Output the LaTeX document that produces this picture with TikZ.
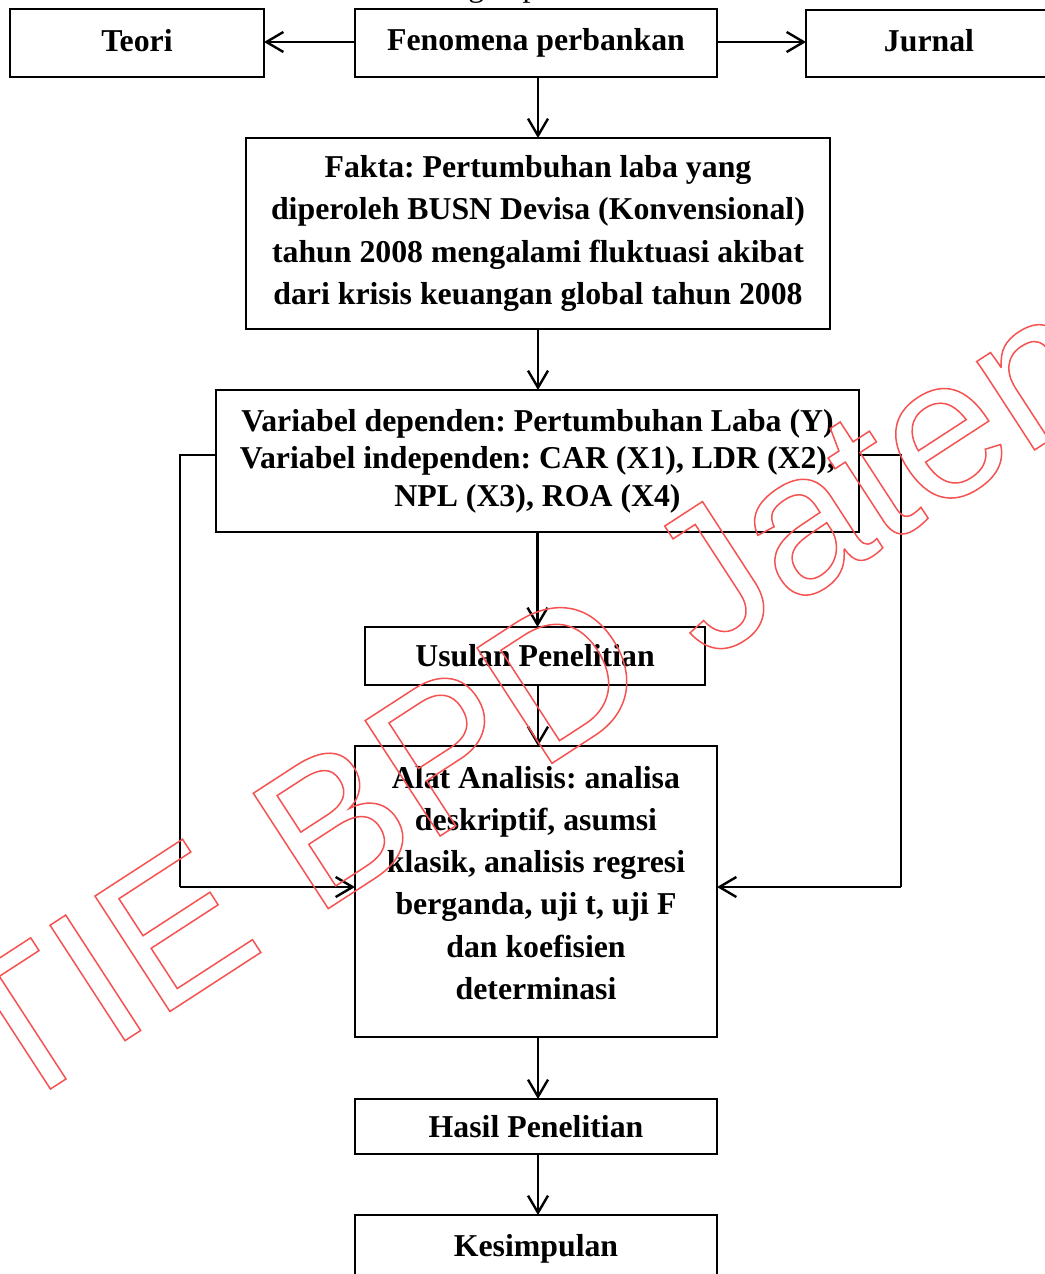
\documentclass[tikz,border=0pt]{standalone}
\usepackage{fontspec}
\setmainfont{Liberation Serif}
\newfontfamily\wmfont{Liberation Sans}
\usetikzlibrary{arrows.meta}
\frenchspacing
\newcommand{\outlinetext}[1]{\special{pdf:literal direct q 1 Tr 1.5 w 0.96 0.32 0.32 RG}#1\special{pdf:literal direct Q}}
\begin{document}
\begin{tikzpicture}[x=1pt,y=-1pt,
  bx/.style={draw, line width=2.5pt, inner sep=0pt, outer sep=0pt, align=center,
    font=\bfseries\fontsize{31.8}{42.3}\selectfont},
  arr/.style={line width=2.5pt, -{Straight Barb[length=17pt,width=20pt,line width=2.4pt]}},
  ln/.style={line width=2.5pt}]
\useasboundingbox (0,0) rectangle (1044,1274);

% partially visible title (cut by the page edge)
\node[anchor=base west, inner sep=0pt, font=\fontsize{32}{38}\selectfont] (title) at (390,-3) {Kerangka pemikiran};

\node[bx, minimum width=254pt, minimum height=68pt] (teori) at (137,43) {Teori\strut};
\node[bx, minimum width=362pt, minimum height=68pt] (fen) at (536,43) {Fenomena perbankan};
\node[bx, minimum width=246pt, minimum height=67pt] (jurnal) at (929,43.5) {Jurnal\strut};

\node[bx, minimum width=584pt, minimum height=191pt] (fakta) at (538,233.5)
  {Fakta: Pertumbuhan laba yang\\diperoleh BUSN Devisa (Konvensional)\\tahun 2008 mengalami fluktuasi akibat\\dari krisis keuangan global tahun 2008};

\node[bx, minimum width=643pt, minimum height=142pt,
  font=\bfseries\fontsize{31.8}{37.5}\selectfont] (var) at (537.5,461)
  {Variabel dependen: Pertumbuhan Laba (Y)\\Variabel independen: CAR (X1), LDR (X2),\\NPL (X3), ROA (X4)};

\node[bx, minimum width=340pt, minimum height=58pt] (usulan) at (535,656) {Usulan Penelitian};

\node[bx, minimum width=362pt, minimum height=291pt] (alat) at (536,891.5) {};
\node[align=center, inner sep=0pt, font=\bfseries\fontsize{31.8}{42.2}\selectfont] (alattext) at (536,883)
  {Alat Analisis: analisa\\deskriptif, asumsi\\klasik, analisis regresi\\berganda, uji t, uji F\\dan koefisien\\determinasi};

\node[bx, minimum width=362pt, minimum height=55pt] (hasil) at (536,1126.5) {Hasil Penelitian};
\node[bx, minimum width=362pt, minimum height=66pt] (kes) at (536,1248) {Kesimpulan\strut};

% connectors
\draw[arr] ([yshift=1pt]fen.west) -- ([yshift=1pt]fen.west -| teori.east);
\draw[arr] ([yshift=1pt]fen.east) -- ([yshift=1pt]fen.east -| jurnal.west);
\draw[arr] ([xshift=2pt]fen.south) -- ([xshift=2pt]fen.south |- fakta.north);
\draw[arr] (fakta.south) -- (fakta.south |- var.north);
\draw[arr] (var.south) -- (var.south |- usulan.north);
\draw[arr] ([xshift=3pt]usulan.south) -- ([xshift=3pt]usulan.south |- alat.north);
\draw[arr] ([xshift=2pt]alat.south) -- ([xshift=2pt]alat.south |- hasil.north);
\draw[arr] ([xshift=2pt]hasil.south) -- ([xshift=2pt]hasil.south |- kes.north);

\coordinate (lt) at (180,455);
\coordinate (lb) at (180,887);
\coordinate (rt) at (901,455);
\coordinate (rb) at (901,887);
\draw[ln] ([yshift=6pt]var.west) -- (lt) -- (lb);
\draw[arr] (lb) -- ([yshift=4.5pt]alat.west);
\draw[ln] ([yshift=6pt]var.east) -- (rt) -- (rb);
\draw[arr] (rb) -- ([yshift=4.5pt]alat.east);

% watermark
\node[rotate=33, anchor=base west, inner sep=0pt, font=\wmfont\fontsize{200}{200}\selectfont] (wm) at (-105,1190)
  {\outlinetext{STIE BPD Jateng}};
\end{tikzpicture}
\end{document}
